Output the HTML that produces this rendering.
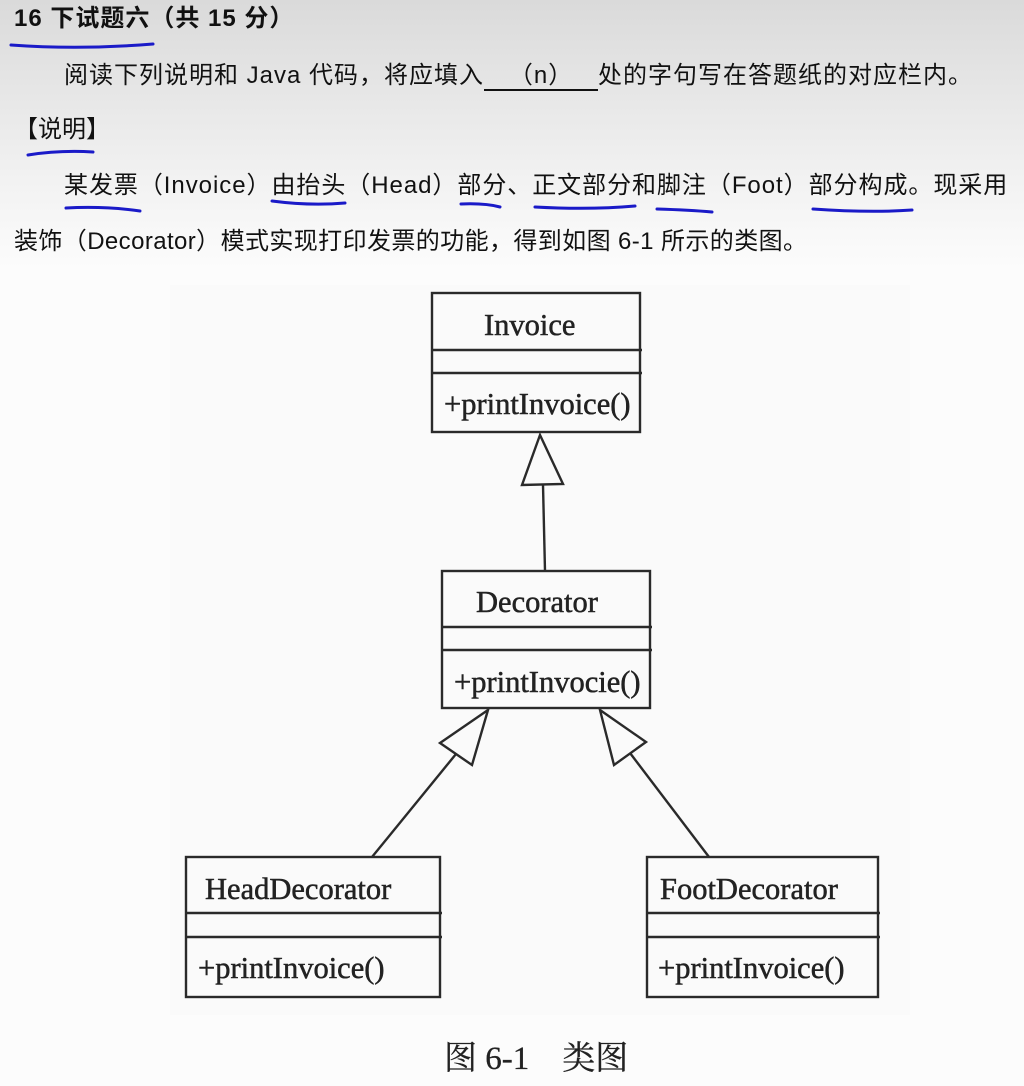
<!DOCTYPE html>
<html><head><meta charset="utf-8"><style>
html,body{margin:0;padding:0;}
body{width:1024px;height:1086px;position:relative;overflow:hidden;
background:linear-gradient(#dadada 0px,#e6e6e6 90px,#f2f2f2 180px,#fcfcfc 270px,#fcfcfc 100%);
font-family:"Liberation Sans","Noto Sans CJK SC",sans-serif;color:#111;}
.t{position:absolute;white-space:nowrap;font-size:24px;line-height:26px;}
svg{position:absolute;left:0;top:0;}
</style></head><body>
<div class="t" style="left:14px;top:6px;font-weight:bold;font-size:24px;letter-spacing:1px;">16 下试题六（共 15 分）</div>
<div class="t" style="left:64px;top:63px;letter-spacing:1px;">阅读下列说明和 Java 代码，将应填入<span style="display:inline-block;width:114px;border-bottom:2px solid #111;text-align:center;">（n）</span>处的字句写在答题纸的对应栏内。</div>
<div class="t" style="left:14px;top:117px;">【说明】</div>
<div class="t" style="left:64px;top:173px;letter-spacing:0.95px;">某发票（Invoice）由抬头（Head）部分、正文部分和脚注（Foot）部分构成。现采用</div>
<div class="t" style="left:14px;top:229px;letter-spacing:0.4px;">装饰（Decorator）模式实现打印发票的功能，得到如图 6-1 所示的类图。</div>
<svg width="1024" height="1086" viewBox="0 0 1024 1086">
 <g stroke="#1a1ac8" stroke-width="3" fill="none" stroke-linecap="round">
  <path d="M11 45 Q80 50 153 44"/>
  <path d="M28 155 Q60 150 93 152"/>
  <path d="M66 208 Q105 206 140 211"/>
  <path d="M272 201 Q310 206 345 203"/>
  <path d="M461 204 Q485 203 500 207"/>
  <path d="M535 207 Q590 210 635 206"/>
  <path d="M657 209 Q690 210 712 212"/>
  <path d="M813 209 Q870 213 912 210"/>
 </g>
 <rect x="170" y="285" width="740" height="730" fill="#fafafa"/>
 <g stroke="#2a2a2a" stroke-width="2.4" fill="none">
  <rect x="432" y="293" width="208" height="139"/>
  <line x1="432" y1="350" x2="642" y2="350"/><line x1="432" y1="373" x2="642" y2="373"/>
  <rect x="442" y="571" width="208" height="137"/>
  <line x1="442" y1="627" x2="652" y2="627"/><line x1="442" y1="650" x2="652" y2="650"/>
  <rect x="186" y="857" width="254" height="140"/>
  <line x1="186" y1="913" x2="442" y2="913"/><line x1="186" y1="937" x2="442" y2="937"/>
  <rect x="647" y="857" width="231" height="140"/>
  <line x1="647" y1="913" x2="880" y2="913"/><line x1="647" y1="937" x2="880" y2="937"/>
  <polygon points="540,435 522,485 563,484" fill="#fafafa"/>
  <line x1="543" y1="485" x2="545" y2="571"/>
  <polygon points="488,710 440,743 472,765" fill="#fafafa"/>
  <line x1="456" y1="754" x2="372" y2="857"/>
  <polygon points="600,710 646,742 614,765" fill="#fafafa"/>
  <line x1="630" y1="753" x2="709" y2="857"/>
 </g>
 <g font-family="Liberation Serif, serif" font-size="30.5" fill="#222" stroke="#222" stroke-width="0.5">
  <text x="484" y="335">Invoice</text>
  <text x="444" y="414">+printInvoice()</text>
  <text x="476" y="612">Decorator</text>
  <text x="454" y="692">+printInvocie()</text>
  <text x="205" y="899">HeadDecorator</text>
  <text x="198" y="978">+printInvoice()</text>
  <text x="660" y="899">FootDecorator</text>
  <text x="658" y="978">+printInvoice()</text>
  <text x="444" y="1069" font-family="Liberation Serif, Noto Serif CJK SC, serif" font-size="33" stroke-width="0.3">图 6-1　类图</text>
 </g>
</svg>
</body></html>
